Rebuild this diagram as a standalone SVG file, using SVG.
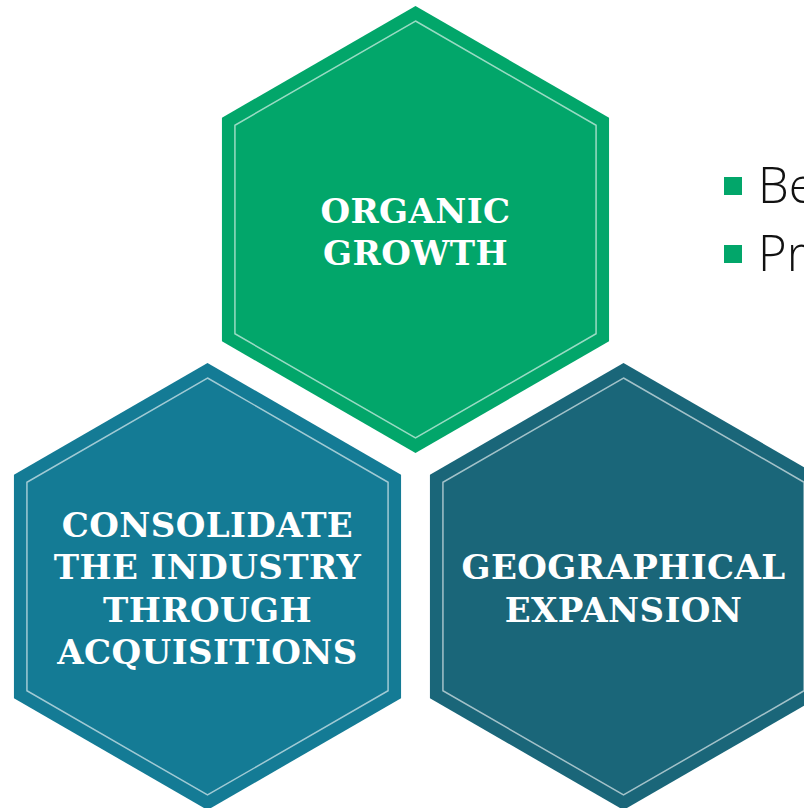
<svg xmlns="http://www.w3.org/2000/svg" width="804" height="808" viewBox="0 0 804 808">
  <style>
    .hex-in { fill: none; stroke: #ffffff; stroke-opacity: 0.6; stroke-width: 1.5; }
    .label { font-family: "DejaVu Serif", "Liberation Serif", serif; font-weight: bold; font-size: 34px; letter-spacing: 0.4px; fill: #ffffff; text-anchor: middle; }
    .bullet-text { font-family: "Open Sans", "Liberation Sans", sans-serif; font-weight: 300; font-size: 49px; fill: #111111; }
    .bullet { fill: #02a66a; }
  </style>
  <defs>
    <!-- pointy-top hexagon, r = 223.5 -->
    <path id="hex-outer" d="M0,-223.5 L193.56,-111.75 L193.56,111.75 L0,223.5 L-193.56,111.75 L-193.56,-111.75 Z"/>
    <!-- inset outline, r = 208.5 -->
    <path id="hex-inner" d="M0,-208.5 L180.57,-104.25 L180.57,104.25 L0,208.5 L-180.57,104.25 L-180.57,-104.25 Z"/>
  </defs>

  <rect width="804" height="808" fill="#ffffff"/>

  <g id="organic-growth" transform="translate(415.5,229.5)">
    <use href="#hex-outer" fill="#02a66a"/>
    <use href="#hex-inner" class="hex-in"/>
    <text class="label" x="0" y="-7">ORGANIC</text>
    <text class="label" x="0" y="35">GROWTH</text>
  </g>

  <g id="consolidate" transform="translate(207.5,586.5)">
    <use href="#hex-outer" fill="#147b95"/>
    <use href="#hex-inner" class="hex-in"/>
    <text class="label" x="0" y="-50">CONSOLIDATE</text>
    <text class="label" x="0" y="-8">THE INDUSTRY</text>
    <text class="label" x="0" y="35">THROUGH</text>
    <text class="label" x="0" y="77">ACQUISITIONS</text>
  </g>

  <g id="geographical-expansion" transform="translate(623.5,586.5)">
    <use href="#hex-outer" fill="#1a6679"/>
    <use href="#hex-inner" class="hex-in"/>
    <text class="label" x="0" y="-7.5">GEOGRAPHICAL</text>
    <text class="label" x="0" y="35">EXPANSION</text>
  </g>

  <g id="bullets">
    <rect class="bullet" x="724" y="177" width="18" height="18"/>
    <text class="bullet-text" x="758" y="203">Be</text>
    <rect class="bullet" x="724" y="245" width="18" height="18"/>
    <text class="bullet-text" x="758" y="271">Pr</text>
  </g>

  <g id="connectors"></g>
</svg>
